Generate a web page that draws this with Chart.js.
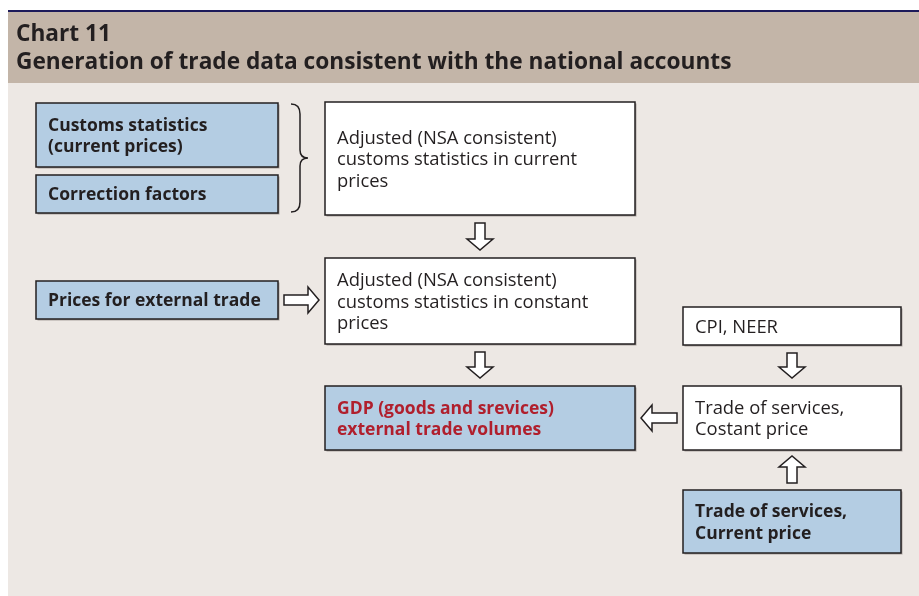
<!DOCTYPE html>
<html>
<head>
<meta charset="utf-8">
<script src="https://cdn.jsdelivr.net/npm/chart.js@4.4.1/dist/chart.umd.min.js"></script>
<style>
  html, body { margin: 0; padding: 0; background: #ffffff; }
  #wrap { width: 919px; height: 596px; }
</style>
</head>
<body>
<div id="wrap"><canvas id="flow-chart" width="919" height="596"></canvas></div>
<script>
// chart texts
const chartNumber = 'Chart 11';
const chartTitle = 'Generation of trade data consistent with the national accounts';

// node texts, one entry per box
const nodeLines = [
    ['Customs statistics', '(current prices)'],
    ['Correction factors'],
    ['Adjusted (NSA consistent)', 'customs statistics in current', 'prices'],
    ['Prices for external trade'],
    ['Adjusted (NSA consistent)', 'customs statistics in constant', 'prices'],
    ['GDP (goods and srevices)', 'external trade volumes'],
    ['CPI, NEER'],
    ['Trade of services,', 'Costant price'],
    ['Trade of services,', 'Current price'],
];
// node kind: input (blue, bold), step (white), result (blue, red bold)
const nodeKind = ['input', 'input', 'step', 'input', 'step', 'result', 'step', 'step', 'input'];

// flow links: from node -> to node
const linkFrom = [2, 3, 4, 6, 7, 8];
const linkTo   = [4, 4, 5, 7, 5, 7];

// layout in the chart's own value space (x 0..919, y 0..596 top-down)
const nodeBox = [
    [36, 103, 242, 64],
    [36, 175, 242, 38],
    [325, 102, 310, 113],
    [36, 281, 242, 38],
    [325, 258, 310, 86],
    [325, 386, 310, 64],
    [683, 307, 218, 38],
    [683, 386, 218, 64],
    [683, 490, 218, 63],
];

const styles = {
    input:  { fill: '#b4cde3', text: '#231f20', font: 'bold 17.5px ' },
    step:   { fill: '#ffffff', text: '#231f20', font: '18.4px ' },
    result: { fill: '#b4cde3', text: '#b01f2d', font: 'bold 17.5px ' },
};
const fontFamily = '"Open Sans", "Noto Sans", sans-serif';

function blockArrow(ctx, x1, y1, x2, y2) {
    // hollow block arrow from (x1,y1) to (x2,y2)
    const len = Math.hypot(x2 - x1, y2 - y1);
    const ang = Math.atan2(y2 - y1, x2 - x1);
    const shaft = 5, head = 13, headLen = 11;
    ctx.save();
    ctx.translate(x1, y1);
    ctx.rotate(ang);
    ctx.beginPath();
    ctx.moveTo(0, -shaft);
    ctx.lineTo(len - headLen, -shaft);
    ctx.lineTo(len - headLen, -head);
    ctx.lineTo(len, 0);
    ctx.lineTo(len - headLen, head);
    ctx.lineTo(len - headLen, shaft);
    ctx.lineTo(0, shaft);
    ctx.closePath();
    ctx.fillStyle = '#ffffff';
    ctx.fill();
    ctx.lineWidth = 1.5;
    ctx.strokeStyle = '#231f20';
    ctx.stroke();
    ctx.restore();
}

const flowPlugin = {
    id: 'flowPlugin',
    beforeDraw(chart) {
        const { ctx, scales: { x, y } } = chart;
        const px = v => x.getPixelForValue(v);
        const py = v => y.getPixelForValue(v);

        ctx.save();
        // panel background
        ctx.fillStyle = '#ede8e4';
        ctx.fillRect(px(8), py(83), px(919) - px(8), py(596) - py(83));
        ctx.fillStyle = '#c3b5a8';
        ctx.fillRect(px(8), py(12), px(919) - px(8), py(83) - py(12));
        ctx.fillStyle = '#1c1a5a';
        ctx.fillRect(px(8), py(10), px(919) - px(8), py(12) - py(10));

        // header text
        ctx.fillStyle = '#231f20';
        ctx.font = 'bold 22.7px ' + fontFamily;
        ctx.textBaseline = 'alphabetic';
        ctx.textAlign = 'left';
        ctx.fillText(chartNumber, px(16), py(41));
        ctx.fillText(chartTitle, px(16), py(69));

        // brace grouping the first two inputs
        const bx = px(291), top = py(104), bot = py(212), mid = py(158);
        ctx.beginPath();
        ctx.moveTo(bx, top);
        ctx.quadraticCurveTo(bx + 9, top, bx + 9, top + 10);
        ctx.lineTo(bx + 9, mid - 8);
        ctx.quadraticCurveTo(bx + 9, mid, bx + 17, mid);
        ctx.quadraticCurveTo(bx + 9, mid, bx + 9, mid + 8);
        ctx.lineTo(bx + 9, bot - 10);
        ctx.quadraticCurveTo(bx + 9, bot, bx, bot);
        ctx.lineWidth = 1.5;
        ctx.strokeStyle = '#231f20';
        ctx.stroke();

        // boxes
        nodeBox.forEach((b, i) => {
            const st = styles[nodeKind[i]];
            const x0 = px(b[0]), y0 = py(b[1]);
            const w = px(b[0] + b[2]) - x0, h = py(b[1] + b[3]) - y0;
            ctx.fillStyle = 'rgba(90,80,75,0.45)';
            ctx.fillRect(x0 + 1.5, y0 + 1.5, w, h);
            ctx.fillStyle = st.fill;
            ctx.fillRect(x0, y0, w, h);
            ctx.lineWidth = 1.5;
            ctx.strokeStyle = '#231f20';
            ctx.strokeRect(x0, y0, w, h);

            const lines = nodeLines[i];
            const lh = 21.5;
            ctx.font = st.font + fontFamily;
            ctx.fillStyle = st.text;
            ctx.textBaseline = 'middle';
            const cy = y0 + h / 2 + 1.5 - (lines.length - 1) * lh / 2;
            lines.forEach((t, k) => ctx.fillText(t, x0 + 12, cy + k * lh));
        });

        // arrows between boxes
        linkFrom.forEach((f, i) => {
            const a = nodeBox[f], b = nodeBox[linkTo[i]];
            let x1, y1, x2, y2;
            if (a[1] + a[3] <= b[1]) {           // downward
                x1 = x2 = px(Math.max(a[0], b[0]) + Math.min(a[2], b[2]) / 2);
                y1 = py(a[1] + a[3]) + 8; y2 = py(b[1]) - 8;
            } else if (a[1] >= b[1] + b[3]) {    // upward
                x1 = x2 = px(a[0] + a[2] / 2);
                y1 = py(a[1]) - 7; y2 = py(b[1] + b[3]) + 6;
            } else if (a[0] + a[2] <= b[0]) {    // rightward
                y1 = y2 = py(a[1] + a[3] / 2);
                x1 = px(a[0] + a[2]) + 6; x2 = px(b[0]) - 6;
            } else {                             // leftward
                y1 = y2 = py(b[1] + b[3] / 2);
                x1 = px(a[0]) - 6; x2 = px(b[0] + b[2]) + 6;
            }
            blockArrow(ctx, x1, y1, x2, y2);
        });
        ctx.restore();
    },
};

const flowChart = new Chart(document.getElementById('flow-chart').getContext('2d'), {
    type: 'scatter',
    data: { datasets: [{ data: [], pointRadius: 0 }] },
    options: {
        responsive: false,
        animation: false,
        layout: { padding: 0 },
        plugins: { legend: { display: false }, tooltip: { enabled: false } },
        scales: {
            x: { type: 'linear', min: 0, max: 919, display: false },
            y: { type: 'linear', min: 0, max: 596, reverse: true, display: false },
        },
    },
    plugins: [flowPlugin],
});
</script>
</body>
</html>
